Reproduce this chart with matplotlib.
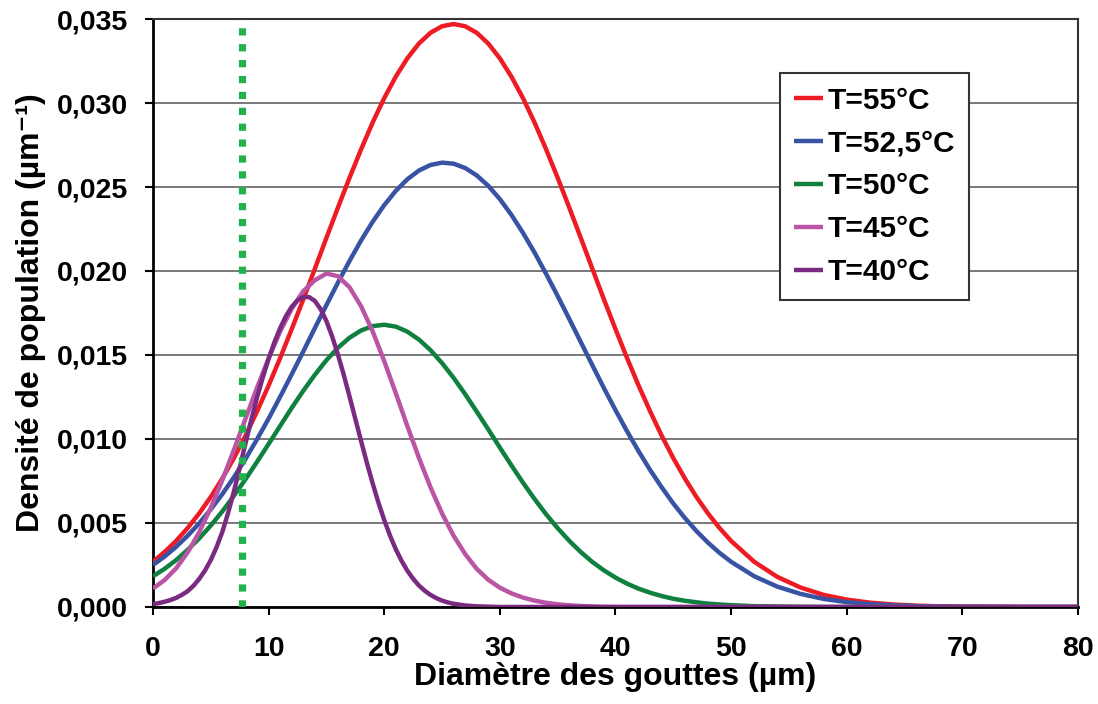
'''
droplet size distributions at several temperatures
'''
import matplotlib.pyplot as plt

plt.rcParams['font.family'] = ['Liberation Sans', 'DejaVu Sans']
plt.rcParams['font.weight'] = 'bold'

# diameters (um) where the curves were read
diam = list(range(0, 51)) + [52, 54, 56, 58, 60, 62, 64, 66, 68, 70, 75, 80]
# the 40 C curve is narrow, read it every half micron
diam_40 = [i * 0.5 for i in range(53)] + [27, 28, 29, 30, 40, 50, 60, 70, 80]

dens_55 = [0.00269, 0.00327, 0.00393, 0.00470, 0.00557, 0.00655, 0.00765, 0.00886, 0.01019, 0.01164,
           0.01318, 0.01482, 0.01654, 0.01831, 0.02013, 0.02197, 0.02378, 0.02555, 0.02724, 0.02884,
           0.03029, 0.03157, 0.03266, 0.03354, 0.03418, 0.03457, 0.03470, 0.03457, 0.03418, 0.03354,
           0.03266, 0.03157, 0.03029, 0.02884, 0.02724, 0.02555, 0.02378, 0.02197, 0.02013, 0.01831,
           0.01654, 0.01482, 0.01318, 0.01164, 0.01019, 0.00886, 0.00765, 0.00655, 0.00557, 0.00470,
           0.00393,
           0.00269, 0.00179, 0.00116, 0.00072, 0.00044, 0.00026, 0.00015, 0.00008, 0.00004, 0.00002, 0.0, 0.0]
dens_525 = [0.00250, 0.00300, 0.00358, 0.00424, 0.00498, 0.00581, 0.00672, 0.00772, 0.00881, 0.00998,
            0.01121, 0.01251, 0.01385, 0.01521, 0.01660, 0.01797, 0.01931, 0.02060, 0.02182, 0.02293,
            0.02392, 0.02477, 0.02546, 0.02598, 0.02631, 0.02645, 0.02639, 0.02613, 0.02569, 0.02507,
            0.02428, 0.02334, 0.02227, 0.02110, 0.01983, 0.01851, 0.01715, 0.01577, 0.01439, 0.01303,
            0.01172, 0.01046, 0.00927, 0.00815, 0.00712, 0.00616, 0.00530, 0.00452, 0.00383, 0.00322,
            0.00269,
            0.00183, 0.00121, 0.00078, 0.00048, 0.00029, 0.00017, 0.00010, 0.00005, 0.00003, 0.00001, 0.0, 0.0]
dens_50 = [0.00183, 0.00227, 0.00279, 0.00340, 0.00408, 0.00485, 0.00569, 0.00662, 0.00760, 0.00864,
           0.00970, 0.01078, 0.01185, 0.01287, 0.01382, 0.01469, 0.01543, 0.01603, 0.01646, 0.01672,
           0.01680, 0.01669, 0.01639, 0.01592, 0.01529, 0.01452, 0.01364, 0.01267, 0.01163, 0.01057,
           0.00949, 0.00843, 0.00740, 0.00643, 0.00552, 0.00469, 0.00394, 0.00327, 0.00268, 0.00218,
           0.00175, 0.00139, 0.00109, 0.00085, 0.00065, 0.00049, 0.00037, 0.00028, 0.00020, 0.00015,
           0.00011,
           0.00005, 0.00003, 0.00001, 0.0, 0.0, 0.0, 0.0, 0.0, 0.0, 0.0, 0.0, 0.0]
dens_45 = [0.0011, 0.0016, 0.0023, 0.00325, 0.00445, 0.0059, 0.00755, 0.00935, 0.0112, 0.01305,
           0.0148, 0.0164, 0.01775, 0.0188, 0.01945, 0.01985, 0.01969, 0.01903, 0.01790, 0.01641,
           0.01464, 0.01273, 0.01077, 0.00888, 0.00713, 0.00557, 0.00424, 0.00315, 0.00227, 0.00162,
           0.00115, 0.00081, 0.00056, 0.00038, 0.00025, 0.00016, 0.00010, 0.00006, 0.00003, 0.00001,
           0.0, 0.0, 0.0, 0.0, 0.0, 0.0, 0.0, 0.0, 0.0, 0.0,
           0.0,
           0.0, 0.0, 0.0, 0.0, 0.0, 0.0, 0.0, 0.0, 0.0, 0.0, 0.0, 0.0]
dens_40 = [0.00017, 0.00023, 0.00031, 0.00041, 0.00054, 0.00072, 0.00094, 0.00126, 0.00167, 0.00217,
           0.00279, 0.00356, 0.00447, 0.00560, 0.00687, 0.00828, 0.00973, 0.01114, 0.01246, 0.01367,
           0.01477, 0.01575, 0.01660, 0.01731, 0.01787, 0.01825, 0.01845, 0.01845, 0.01822, 0.01773,
           0.01702, 0.01610, 0.01502, 0.01382, 0.01253, 0.01120, 0.00988, 0.00858, 0.00736, 0.00621,
           0.00518, 0.00425, 0.00344, 0.00275, 0.00216, 0.00168, 0.00128, 0.00097, 0.00072, 0.00053,
           0.00038, 0.00027, 0.00019,
           0.00009, 0.00004, 0.00002, 0.0, 0.0, 0.0, 0.0, 0.0, 0.0]

labels = ['T=55°C', 'T=52,5°C', 'T=50°C', 'T=45°C', 'T=40°C']
colors = ['#ED1C24', '#3953A4', '#0F8040', '#BA55A6', '#7B2A82']
xs = [diam, diam, diam, diam, diam_40]
series = [dens_55, dens_525, dens_50, dens_45, dens_40]

d_cut = 7.7  # dotted vertical marker (um)

xticks = [0, 10, 20, 30, 40, 50, 60, 70, 80]
yticks = [0.0, 0.005, 0.010, 0.015, 0.020, 0.025, 0.030, 0.035]
ytick_labels = ['0,000', '0,005', '0,010', '0,015', '0,020', '0,025', '0,030', '0,035']

fig, ax = plt.subplots(figsize=(10.98, 7.04), dpi=100)
fig.subplots_adjust(left=0.1393, right=0.9818, top=0.973, bottom=0.1378)

for x, vals, lab, col in zip(xs, series, labels, colors):
    ax.plot(x, vals, color=col, lw=3.2, label=lab, zorder=3,
            solid_joinstyle='round', solid_capstyle='butt')

ax.plot([d_cut, d_cut], [yticks[0], yticks[-1]], color='#22B14C', lw=5.2,
        dashes=(1.0, 1.2), dash_capstyle='butt', zorder=4)

ax.set_xlim(0, 80)
ax.set_ylim(0, 0.035)
ax.set_xticks(xticks)
ax.set_xticklabels([str(t) for t in xticks])
ax.set_yticks(yticks)
ax.set_yticklabels(ytick_labels)
ax.tick_params(axis='both', labelsize=20.5, width=1.5, length=6, direction='out')
ax.tick_params(axis='y', pad=12)
ax.tick_params(axis='x', pad=15)
ax.yaxis.grid(True, color='#6e6e6e', lw=1.3, zorder=0)
ax.set_axisbelow(True)
for side in ['left', 'bottom']:
    ax.spines[side].set_linewidth(2.0)
for side in ['top', 'right']:
    ax.spines[side].set_linewidth(1.5)
    ax.spines[side].set_color('#333333')

ax.set_xlabel('Diamètre des gouttes (µm)', fontsize=23, fontweight='bold', labelpad=0)
ax.set_ylabel('Densité de population (µm⁻¹)', fontsize=23, fontweight='bold', labelpad=8)

leg = ax.legend(loc='upper left', bbox_to_anchor=(0.678, 0.908), borderaxespad=0,
                fontsize=21.5, handlelength=1.0, handletextpad=0.15, labelspacing=0.5,
                fancybox=False, framealpha=1, edgecolor='#333333', borderpad=0.45)
leg.get_frame().set_linewidth(1.5)

plt.savefig('out.png', dpi=100)
